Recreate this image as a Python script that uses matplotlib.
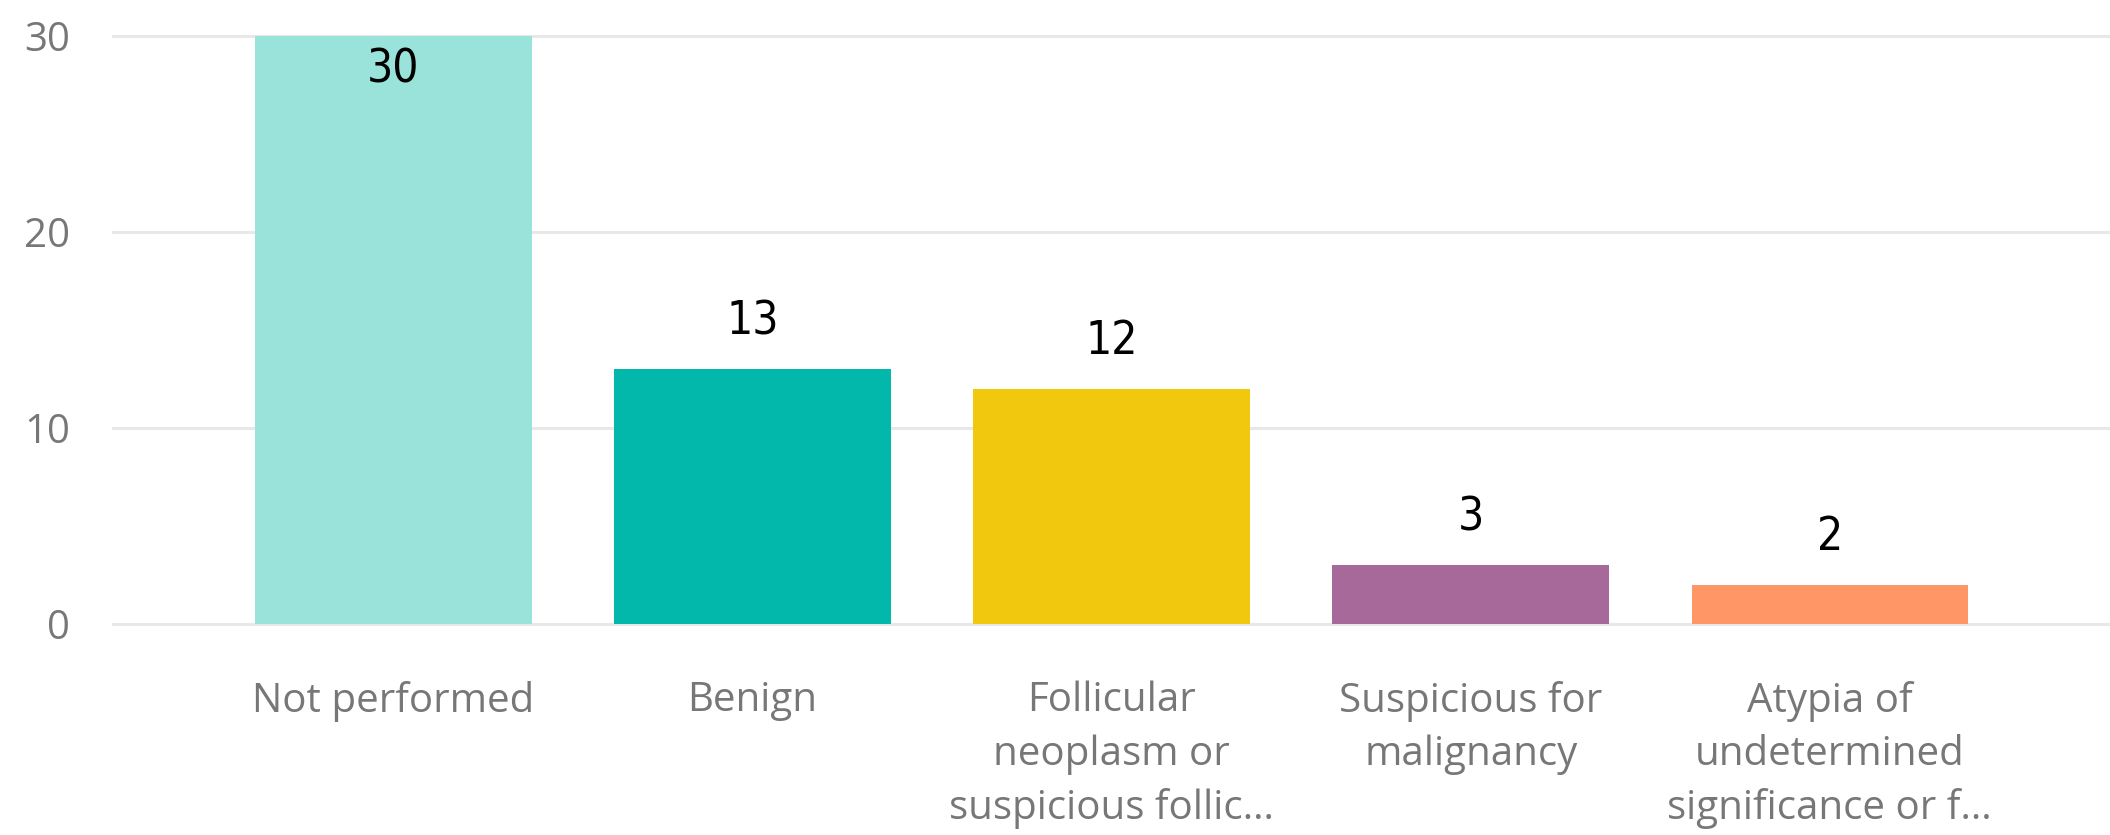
import numpy as np
import matplotlib.pyplot as plt

categories = ['Not performed', 'Benign', 'Follicular\nneoplasm or\nsuspicious follic\u2026',
              'Suspicious for\nmalignancy', 'Atypia of\nundetermined\nsignificance or f\u2026']
counts = [30, 13, 12, 3, 2]
bar_colors = ['#99E3DB', '#01B8AA', '#F2C80F', '#A66999', '#FE9666']
yticks = [0, 10, 20, 30]

fig = plt.figure(figsize=(21.1, 8.35), dpi=100, facecolor='white')
ax = fig.add_axes([0.0536, 0.2527, 0.9464, 0.7042])

x = np.arange(len(categories))
bars = ax.bar(x, counts, width=0.77, color=bar_colors, zorder=3)

ax.set_xlim(-0.78, 4.78)
ax.set_ylim(0, 30)
ax.set_yticks(yticks)
ax.set_xticks(x)
ax.set_xticklabels(categories, linespacing=1.42)

for s in ax.spines.values():
	s.set_visible(False)
ax.grid(axis='y', color='#E8E8E8', linewidth=2.2, zorder=0)
ax.set_axisbelow(True)
for line in ax.get_ygridlines():
	line.set_clip_on(False)

ax.tick_params(axis='both', length=0, labelcolor='#777777', labelsize=29)
ax.tick_params(axis='y', pad=31)
ax.tick_params(axis='x', pad=41)
for lbl in ax.get_xticklabels() + ax.get_yticklabels():
	lbl.set_fontfamily(['Open Sans', 'DejaVu Sans'])

#data labels, inside the bar when it touches the top
lab_font = dict(fontsize=33, color='black', family=['Liberation Sans Narrow', 'DejaVu Sans'],
	stretch='condensed')
for b, v in zip(bars, counts):
	cx = b.get_x() + b.get_width() / 2
	if v >= 29:
		ax.annotate(str(v), (cx, v), xytext=(0, -8), textcoords='offset points',
			ha='center', va='top', **lab_font)
	else:
		ax.annotate(str(v), (cx, v), xytext=(0, 18), textcoords='offset points',
			ha='center', va='bottom', **lab_font)

fig.savefig('out.png', dpi=100, facecolor='white')
